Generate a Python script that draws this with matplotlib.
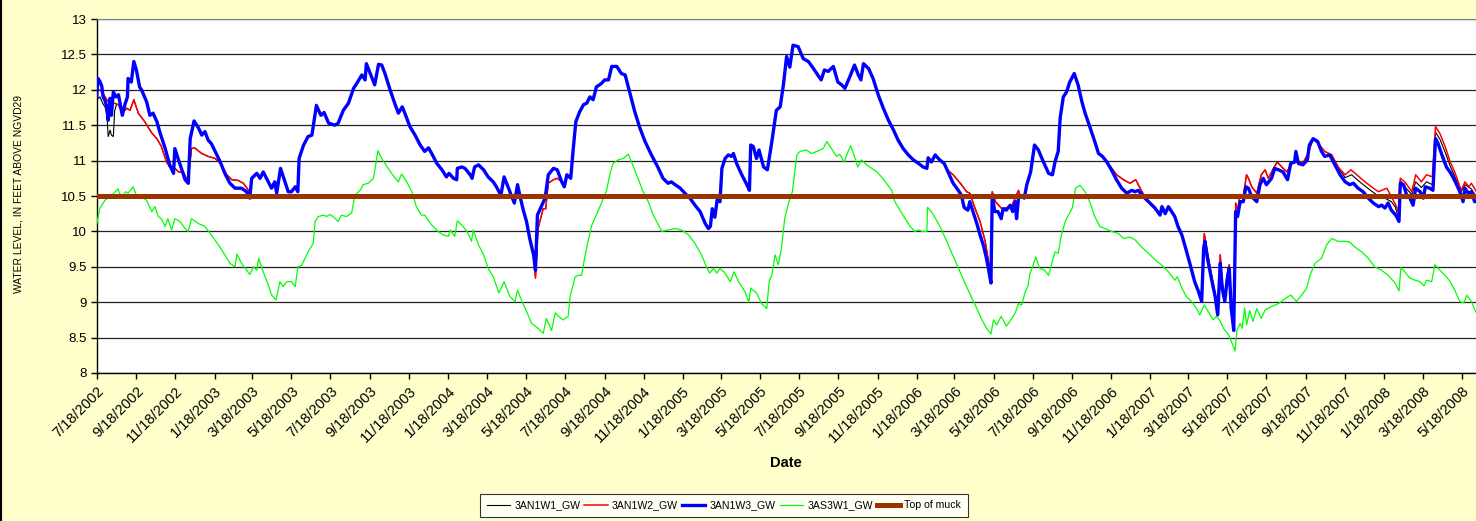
import numpy as np
import pandas as pd
import matplotlib
matplotlib.use("Agg")
import matplotlib.pyplot as plt
from matplotlib.lines import Line2D

plt.rcParams['font.family'] = ['Liberation Sans', 'DejaVu Sans']

# --- data (days after 7/18/2002, water level in ft) ---
start = pd.Timestamp("2002-07-18")

w3_days = [0, 2, 5, 8, 10, 13, 16, 18, 21, 23, 26, 30, 34, 40, 44, 48, 49, 54, 58, 62,
           67, 70, 78, 83, 88, 94, 99, 107, 114, 120, 122, 127, 133, 138, 143, 146, 152,
           159, 164, 169, 174, 179, 185, 193, 200, 208, 216, 226, 234, 239, 242, 250, 255,
           260, 268, 273, 278, 281, 287, 294, 299, 304, 310, 314, 316, 323, 330, 336, 340,
           343, 350, 355, 362, 372, 377, 385, 393, 401, 406, 414, 419, 421, 427, 434, 440,
           445, 450, 458, 466, 471, 477, 481, 489, 497, 505, 512, 518, 523, 531, 539, 546,
           550, 557, 562, 563, 570, 575, 583, 586, 590, 596, 604, 611, 619, 624, 631, 636,
           643, 648, 652, 657, 661, 666, 671, 676, 682, 685, 688, 695, 700, 705, 713, 719,
           726, 730, 734, 740, 744, 748, 754, 760, 765, 770, 775, 780, 788, 793, 799, 804,
           812, 819, 825, 832, 840, 848, 856, 866, 877, 884, 892, 897, 903, 911, 918, 926,
           934, 942, 950, 955, 958, 961, 965, 969, 973, 976, 981, 986, 991, 994, 999, 1007,
           1015, 1019, 1021, 1025, 1030, 1034, 1041, 1047, 1054, 1061, 1067, 1072, 1077,
           1082, 1087, 1095, 1103, 1111, 1119, 1127, 1131, 1136, 1142, 1150, 1157, 1163,
           1168, 1176, 1183, 1189, 1193, 1197, 1205, 1212, 1220, 1228, 1236, 1244, 1251,
           1259, 1267, 1275, 1283, 1290, 1296, 1298, 1303, 1309, 1316, 1323, 1329, 1337,
           1345, 1350, 1354, 1360, 1363, 1368, 1374, 1379, 1384, 1389, 1393, 1396, 1398,
           1402, 1407, 1412, 1415, 1420, 1426, 1430, 1434, 1436, 1439, 1441, 1448, 1452,
           1458, 1464, 1470, 1478, 1486, 1492, 1496, 1501, 1504, 1509, 1514, 1519, 1526,
           1532, 1538, 1543, 1551, 1558, 1564, 1570, 1577, 1584, 1592, 1600, 1608, 1616,
           1621, 1626, 1634, 1642, 1652, 1660, 1663, 1668, 1673, 1678, 1683, 1688, 1694,
           1700, 1707, 1714, 1720, 1725, 1728, 1730, 1734, 1740, 1746, 1750, 1754, 1757,
           1761, 1765, 1768, 1771, 1773, 1775, 1778, 1781, 1785, 1790, 1794, 1798, 1803,
           1811, 1816, 1821, 1826, 1834, 1839, 1845, 1852, 1859, 1864, 1870, 1872, 1876,
           1883, 1890, 1893, 1899, 1906, 1912, 1917, 1925, 1933, 1941, 1949, 1956, 1962,
           1969, 1977, 1985, 1993, 2001, 2006, 2011, 2016, 2021, 2028, 2033, 2035, 2040,
           2045, 2050, 2055, 2059, 2066, 2071, 2074, 2081, 2086, 2090, 2094, 2100, 2107,
           2114, 2121, 2128, 2133, 2136, 2141, 2146, 2151, 2154]
w3_level = [11.90, 12.16, 12.12, 12.05, 11.90, 11.85, 11.75, 11.57, 11.88, 11.64, 11.97,
            11.90, 11.93, 11.64, 11.79, 11.90, 12.16, 12.11, 12.40, 12.28, 12.04, 12.00,
            11.83, 11.64, 11.67, 11.55, 11.39, 11.17, 10.94, 10.82, 11.17, 11.03, 10.87,
            10.73, 10.68, 11.31, 11.56, 11.46, 11.36, 11.41, 11.29, 11.24, 11.13, 10.98,
            10.82, 10.68, 10.61, 10.61, 10.56, 10.47, 10.75, 10.82, 10.75, 10.84, 10.70,
            10.61, 10.70, 10.54, 10.89, 10.70, 10.56, 10.56, 10.63, 10.56, 11.03, 11.22,
            11.34, 11.36, 11.60, 11.78, 11.64, 11.68, 11.53, 11.50, 11.53, 11.71, 11.81,
            12.02, 12.09, 12.21, 12.14, 12.37, 12.23, 12.07, 12.36, 12.35, 12.23, 12.00,
            11.79, 11.67, 11.76, 11.67, 11.48, 11.36, 11.22, 11.13, 11.18, 11.10, 10.96,
            10.87, 10.77, 10.82, 10.75, 10.73, 10.89, 10.91, 10.89, 10.80, 10.75, 10.91,
            10.94, 10.87, 10.77, 10.70, 10.63, 10.51, 10.77, 10.61, 10.49, 10.40, 10.66,
            10.49, 10.30, 10.14, 9.90, 9.67, 9.45, 10.23, 10.37, 10.47, 10.80, 10.89,
            10.87, 10.70, 10.63, 10.80, 10.75, 11.17, 11.55, 11.69, 11.79, 11.81, 11.90,
            11.86, 12.04, 12.09, 12.14, 12.14, 12.33, 12.33, 12.23, 12.21, 11.97, 11.69,
            11.46, 11.27, 11.08, 10.89, 10.75, 10.68, 10.70, 10.66, 10.61, 10.54, 10.47,
            10.37, 10.28, 10.11, 10.04, 10.07, 10.32, 10.20, 10.47, 10.42, 10.89, 11.03,
            11.08, 11.06, 11.10, 10.96, 10.80, 10.66, 10.58, 11.22, 11.20, 11.03, 11.15,
            10.91, 10.87, 11.27, 11.71, 11.76, 12.07, 12.47, 12.32, 12.63, 12.61, 12.44,
            12.40, 12.30, 12.19, 12.14, 12.28, 12.26, 12.33, 12.11, 12.07, 12.02, 12.19,
            12.35, 12.21, 12.14, 12.37, 12.30, 12.16, 11.93, 11.74, 11.57, 11.43, 11.29,
            11.17, 11.08, 11.01, 10.96, 10.91, 10.89, 11.04, 10.98, 11.08, 11.01, 10.96,
            10.84, 10.68, 10.58, 10.51, 10.34, 10.30, 10.42, 10.28, 10.11, 9.95, 9.81,
            9.62, 9.43, 9.27, 10.51, 10.28, 10.28, 10.18, 10.32, 10.30, 10.37, 10.28,
            10.42, 10.18, 10.47, 10.51, 10.47, 10.66, 10.84, 11.22, 11.15, 10.98, 10.82,
            10.80, 10.98, 11.13, 11.60, 11.90, 11.97, 12.11, 12.23, 12.07, 11.83, 11.67,
            11.46, 11.27, 11.10, 11.06, 10.98, 10.87, 10.73, 10.61, 10.54, 10.58, 10.56,
            10.58, 10.49, 10.42, 10.33, 10.23, 10.35, 10.25, 10.35, 10.28, 10.21, 10.07,
            9.95, 9.76, 9.53, 9.29, 9.15, 9.01, 9.76, 9.86, 9.62, 9.34, 9.08, 8.82, 9.55,
            9.20, 9.01, 9.34, 9.48, 8.91, 8.77, 8.60, 10.28, 10.21, 10.42, 10.42, 10.63,
            10.61, 10.49, 10.42, 10.66, 10.75, 10.66, 10.75, 10.89, 10.87, 10.84, 10.73,
            10.96, 10.98, 11.13, 10.96, 10.94, 11.01, 11.22, 11.31, 11.27, 11.13, 11.06,
            11.08, 10.94, 10.80, 10.70, 10.66, 10.68, 10.61, 10.56, 10.47, 10.40, 10.35,
            10.37, 10.33, 10.40, 10.30, 10.23, 10.14, 10.68, 10.66, 10.51, 10.47, 10.37,
            10.61, 10.56, 10.47, 10.63, 10.61, 10.58, 11.31, 11.24, 11.08, 10.91, 10.82,
            10.70, 10.56, 10.42, 10.61, 10.54, 10.56, 10.42, 10.42]

# 3AN1W2 where it departs from 3AN1W3
w2_early_days = [0, 5, 10, 18, 23, 28, 34, 40, 47, 52, 58, 65, 75, 86, 94, 101, 109, 114,
                 120, 122, 128, 135, 140, 143, 148, 153, 164, 174, 185, 193, 203, 211, 221,
                 229, 237, 239]
w2_early_level = [12.00, 12.00, 11.95, 11.83, 11.80, 11.81, 11.79, 11.67, 11.74, 11.71,
                  11.86, 11.67, 11.55, 11.39, 11.31, 11.20, 10.98, 10.91, 10.85, 10.89,
                  10.84, 10.84, 10.75, 10.73, 11.17, 11.18, 11.10, 11.06, 11.03, 10.96,
                  10.80, 10.73, 10.72, 10.68, 10.58, 10.47]
w2_2004_days = [685, 689, 697, 701, 705, 713, 719]
w2_2004_level = [9.34, 10.04, 10.32, 10.32, 10.68, 10.73, 10.75]
w2_2006_days = [1329, 1337, 1350, 1358, 1363, 1371, 1379, 1387, 1394, 1396, 1398, 1403,
                1413, 1428, 1439]
w2_2006_level = [10.86, 10.80, 10.66, 10.56, 10.54, 10.33, 10.14, 9.86, 9.48, 9.40, 10.56,
                 10.42, 10.32, 10.35, 10.58]
w2_2007a_days = [1584, 1592, 1603, 1613, 1622, 1629, 1636]
w2_2007a_level = [10.90, 10.80, 10.73, 10.68, 10.73, 10.61, 10.49]
w2_2007b_days = [1729, 1734, 1740, 1746, 1750, 1754, 1757, 1761, 1765, 1768, 1771, 1775,
                 1778, 1781, 1785, 1790, 1795]
w2_2007b_level = [9.97, 9.70, 9.40, 9.12, 8.90, 9.67, 9.28, 9.08, 9.40, 9.53, 9.00, 8.68,
                  10.40, 10.30, 10.52, 10.50, 10.80]
w2_late_days = [1798, 1803, 1811, 1818, 1824, 1829, 1837, 1843, 1850, 1858, 1865, 1873,
                1884, 1891, 1899, 1907, 1917, 1928, 1938, 1949, 1958, 1967, 1980, 1990,
                2001, 2006, 2014, 2020, 2028, 2032, 2035, 2042, 2053, 2059, 2068, 2076,
                2085, 2090, 2097, 2105, 2113, 2120, 2130, 2136, 2142, 2146, 2154]
w2_late_level = [10.75, 10.63, 10.54, 10.80, 10.87, 10.75, 10.89, 10.98, 10.91, 10.84,
                 10.96, 10.98, 10.98, 11.10, 11.31, 11.24, 11.13, 11.08, 10.91, 10.80,
                 10.87, 10.80, 10.70, 10.63, 10.56, 10.58, 10.61, 10.51, 10.37, 10.28,
                 10.75, 10.70, 10.56, 10.80, 10.70, 10.80, 10.77, 11.48, 11.38, 11.20,
                 10.98, 10.84, 10.58, 10.70, 10.63, 10.68, 10.56]

# 3AN1W1 where it departs from 3AN1W2
w1_early_days = [0, 5, 10, 13, 16, 18, 21, 23, 26, 28, 31]
w1_early_level = [11.86, 11.90, 11.80, 11.76, 11.64, 11.34, 11.43, 11.36, 11.34, 11.70, 11.80]
w1_late_days = [1941, 1949, 1959, 1969, 1980, 1990, 2001, 2011, 2021, 2027, 2032, 2035,
                2045, 2053, 2059, 2068, 2076, 2085, 2090, 2097, 2105, 2113, 2120, 2130,
                2136, 2146, 2154]
w1_late_level = [10.86, 10.76, 10.80, 10.72, 10.64, 10.57, 10.50, 10.47, 10.42, 10.35,
                 10.20, 10.72, 10.60, 10.52, 10.70, 10.62, 10.70, 10.66, 11.40, 11.30,
                 11.12, 10.92, 10.78, 10.56, 10.66, 10.60, 10.48]

as3_days = [0, 5, 13, 21, 29, 33, 39, 45, 49, 57, 62, 70, 78, 86, 91, 96, 101, 107, 111,
            117, 122, 130, 138, 143, 148, 159, 169, 179, 190, 200, 208, 216, 219, 226, 232,
            239, 245, 250, 253, 260, 268, 273, 280, 286, 291, 297, 304, 310, 314, 320, 330,
            338, 341, 346, 354, 359, 364, 369, 377, 382, 390, 398, 403, 411, 416, 424, 432,
            435, 439, 445, 455, 466, 471, 476, 484, 492, 499, 507, 512, 523, 533, 541, 549,
            552, 559, 563, 572, 580, 585, 588, 596, 604, 611, 619, 628, 636, 645, 653, 657,
            663, 671, 679, 689, 697, 702, 710, 716, 721, 728, 736, 739, 747, 752, 757, 762,
            767, 773, 780, 788, 796, 801, 806, 814, 822, 830, 838, 845, 853, 861, 869, 882,
            892, 903, 913, 924, 934, 944, 952, 957, 963, 968, 973, 981, 989, 995, 1002,
            1012, 1018, 1021, 1030, 1038, 1046, 1050, 1054, 1059, 1064, 1069, 1074, 1080,
            1086, 1093, 1098, 1108, 1116, 1127, 1134, 1140, 1147, 1155, 1160, 1167, 1173,
            1177, 1184, 1188, 1194, 1202, 1210, 1218, 1225, 1233, 1241, 1246, 1254, 1262,
            1270, 1277, 1283, 1289, 1296, 1297, 1303, 1311, 1319, 1327, 1335, 1342, 1350,
            1358, 1366, 1374, 1381, 1389, 1396, 1400, 1405, 1412, 1415, 1420, 1427, 1434,
            1439, 1444, 1449, 1454, 1457, 1462, 1466, 1472, 1480, 1486, 1491, 1496, 1501,
            1506, 1512, 1517, 1523, 1528, 1535, 1543, 1551, 1558, 1566, 1574, 1584, 1595,
            1603, 1613, 1621, 1631, 1642, 1652, 1662, 1673, 1683, 1687, 1694, 1701, 1709,
            1717, 1722, 1729, 1735, 1743, 1748, 1754, 1759, 1767, 1772, 1777, 1780, 1785,
            1788, 1792, 1795, 1800, 1805, 1811, 1818, 1824, 1834, 1845, 1855, 1864, 1873,
            1881, 1889, 1894, 1902, 1912, 1920, 1928, 1938, 1949, 1956, 1964, 1975, 1985,
            1995, 2006, 2016, 2027, 2033, 2036, 2042, 2050, 2058, 2066, 2072, 2076, 2084,
            2089, 2097, 2105, 2113, 2120, 2128, 2134, 2139, 2146, 2154]
as3_level = [10.10, 10.33, 10.44, 10.49, 10.56, 10.60, 10.47, 10.56, 10.54, 10.63, 10.51,
             10.49, 10.44, 10.28, 10.35, 10.21, 10.18, 10.07, 10.18, 10.02, 10.18, 10.14,
             10.04, 10.00, 10.18, 10.11, 10.07, 9.95, 9.81, 9.67, 9.55, 9.50, 9.68, 9.55,
             9.48, 9.39, 9.50, 9.45, 9.62, 9.43, 9.24, 9.10, 9.03, 9.29, 9.22, 9.29, 9.29,
             9.22, 9.50, 9.52, 9.71, 9.83, 10.14, 10.21, 10.23, 10.21, 10.24, 10.21, 10.14,
             10.23, 10.21, 10.26, 10.51, 10.58, 10.66, 10.68, 10.75, 10.91, 11.14, 11.03,
             10.89, 10.75, 10.70, 10.81, 10.70, 10.56, 10.35, 10.23, 10.23, 10.09, 10.00,
             9.95, 9.93, 10.02, 9.93, 10.15, 10.07, 9.97, 9.86, 10.02, 9.81, 9.67, 9.48,
             9.36, 9.13, 9.29, 9.08, 9.01, 9.17, 9.03, 8.87, 8.70, 8.63, 8.56, 8.77, 8.60,
             8.85, 8.80, 8.75, 8.80, 9.08, 9.36, 9.38, 9.38, 9.64, 9.86, 10.09, 10.23,
             10.40, 10.58, 10.80, 10.96, 11.01, 11.03, 11.09, 10.91, 10.75, 10.56, 10.42,
             10.23, 10.00, 10.02, 10.04, 10.02, 9.95, 9.83, 9.67, 9.50, 9.41, 9.48, 9.41,
             9.48, 9.41, 9.29, 9.43, 9.29, 9.15, 9.00, 9.20, 9.13, 8.98, 8.91, 9.31, 9.38,
             9.67, 9.53, 9.76, 10.18, 10.40, 10.56, 11.08, 11.13, 11.15, 11.10, 11.14,
             11.17, 11.27, 11.17, 11.06, 11.09, 10.98, 11.13, 11.21, 11.03, 10.91, 11.01,
             10.94, 10.89, 10.84, 10.77, 10.68, 10.58, 10.42, 10.30, 10.18, 10.07, 10.00,
             10.02, 10.00, 10.00, 10.34, 10.28, 10.16, 10.02, 9.86, 9.69, 9.55, 9.38, 9.22,
             9.06, 8.91, 8.77, 8.63, 8.55, 8.75, 8.68, 8.80, 8.75, 8.66, 8.75, 8.85, 8.98,
             8.96, 9.13, 9.24, 9.41, 9.53, 9.64, 9.48, 9.45, 9.38, 9.55, 9.71, 9.69, 9.95,
             10.14, 10.23, 10.33, 10.61, 10.65, 10.56, 10.40, 10.21, 10.07, 10.04, 10.00,
             9.97, 9.90, 9.92, 9.88, 9.78, 9.69, 9.60, 9.53, 9.43, 9.31, 9.36, 9.20, 9.08,
             9.01, 8.91, 8.82, 8.96, 8.87, 8.75, 8.80, 8.73, 8.63, 8.54, 8.43, 8.31, 8.60,
             8.70, 8.63, 8.92, 8.68, 8.88, 8.73, 8.91, 8.77, 8.89, 8.94, 8.98, 9.05, 9.10,
             9.01, 9.10, 9.20, 9.38, 9.55, 9.62, 9.81, 9.90, 9.86, 9.86, 9.85, 9.78, 9.71,
             9.62, 9.50, 9.45, 9.38, 9.27, 9.16, 9.49, 9.43, 9.34, 9.31, 9.29, 9.23, 9.31,
             9.29, 9.53, 9.45, 9.38, 9.29, 9.17, 9.01, 8.99, 9.10, 9.01, 8.84]

muck_days = [0, 2154]
muck_level = [10.5, 10.5]

tick_labels = ["7/18/2002", "9/18/2002", "11/18/2002", "1/18/2003", "3/18/2003",
               "5/18/2003", "7/18/2003", "9/18/2003", "11/18/2003", "1/18/2004",
               "3/18/2004", "5/18/2004", "7/18/2004", "9/18/2004", "11/18/2004",
               "1/18/2005", "3/18/2005", "5/18/2005", "7/18/2005", "9/18/2005",
               "11/18/2005", "1/18/2006", "3/18/2006", "5/18/2006", "7/18/2006",
               "9/18/2006", "11/18/2006", "1/18/2007", "3/18/2007", "5/18/2007",
               "7/18/2007", "9/18/2007", "11/18/2007", "1/18/2008", "3/18/2008",
               "5/18/2008"]


def splice(base_d, base_v, seg_d, seg_v):
    # replace the part of a base trace covered by a separately read segment
    d = np.asarray(base_d, float)
    v = np.asarray(base_v, float)
    keep = (d < seg_d[0]) | (d > seg_d[-1])
    dd = np.concatenate([d[keep], seg_d])
    vv = np.concatenate([v[keep], seg_v])
    o = np.argsort(dd, kind="stable")
    return dd[o], vv[o]


w2_d, w2_v = w3_days, w3_level
for sd, sv in [(w2_early_days, w2_early_level), (w2_2004_days, w2_2004_level),
               (w2_2006_days, w2_2006_level), (w2_2007a_days, w2_2007a_level),
               (w2_2007b_days, w2_2007b_level), (w2_late_days, w2_late_level)]:
    w2_d, w2_v = splice(w2_d, w2_v, sd, sv)

w1_d, w1_v = splice(w2_d, w2_v, w1_early_days, w1_early_level)
w1_d, w1_v = splice(w1_d, w1_v, w1_late_days, w1_late_level)


def to_dates(days):
    return start + pd.to_timedelta(np.asarray(days, float), unit="D")


# --- figure ---
fig = plt.figure(figsize=(14.76, 5.21), dpi=100)
fig.patch.set_facecolor("#FFFFCC")
ax = fig.add_axes([0.0655, 0.2841, 0.9345, 0.6794])
ax.set_facecolor("white")

ax.plot(to_dates(w1_d), w1_v, color="black", lw=0.8, label="3AN1W1_GW", zorder=3)
ax.plot(to_dates(w2_d), w2_v, color="#FF0000", lw=1.1, label="3AN1W2_GW", zorder=4)
ax.plot(to_dates(w3_days), w3_level, color="#0000FF", lw=2.4, label="3AN1W3_GW", zorder=5)
ax.plot(to_dates(as3_days), as3_level, color="#00FF00", lw=0.9, label="3AS3W1_GW", zorder=6)
ax.plot(to_dates(muck_days), muck_level, color="#993300", lw=3.6, label="Top of muck", zorder=7)

ax.set_ylim(8, 13)
ax.set_yticks(np.arange(8, 13.01, 0.5))
ax.set_yticklabels(["8", "8.5", "9", "9.5", "10", "10.5", "11", "11.5", "12", "12.5", "13"])
ax.yaxis.grid(True, color="#222222", lw=0.9)
ax.set_axisbelow(True)

ax.set_xlim(start, start + pd.Timedelta(days=2153.2))
ticks = pd.to_datetime(tick_labels, format="%m/%d/%Y")
ax.set_xticks(ticks)
ax.set_xticklabels(tick_labels, rotation=45, ha="right", rotation_mode="anchor")

ax.tick_params(axis="both", length=4, width=1, color="black", direction="out")
ax.tick_params(axis="y", labelsize=9.5, pad=3)
ax.tick_params(axis="x", labelsize=10.5, pad=4)
for s in ["left", "bottom"]:
    ax.spines[s].set_color("black")
    ax.spines[s].set_linewidth(1)
ax.spines["top"].set_color("#808080")
ax.spines["right"].set_visible(False)

ax.set_xlabel("Date", fontsize=10.5, fontweight="bold", labelpad=8)
fig.text(0.0125, 0.628, "WATER LEVEL, IN FEET ABOVE NGVD29", rotation=90,
         fontsize=7.4, ha="center", va="center")

# left border line of the chart area
fig.add_artist(Line2D([0.001, 0.001], [0, 1], color="black", lw=1.5,
                      transform=fig.transFigure))

leg = fig.legend(loc="upper center", bbox_to_anchor=(0.4905, 0.052), ncol=5,
                 fontsize=7.6, frameon=True, fancybox=False, edgecolor="black",
                 handlelength=2.2, handletextpad=0.4, columnspacing=0.4,
                 borderpad=0.6, borderaxespad=0)
leg.get_frame().set_linewidth(0.8)

fig.savefig("out.png", dpi=100, facecolor=fig.get_facecolor())
